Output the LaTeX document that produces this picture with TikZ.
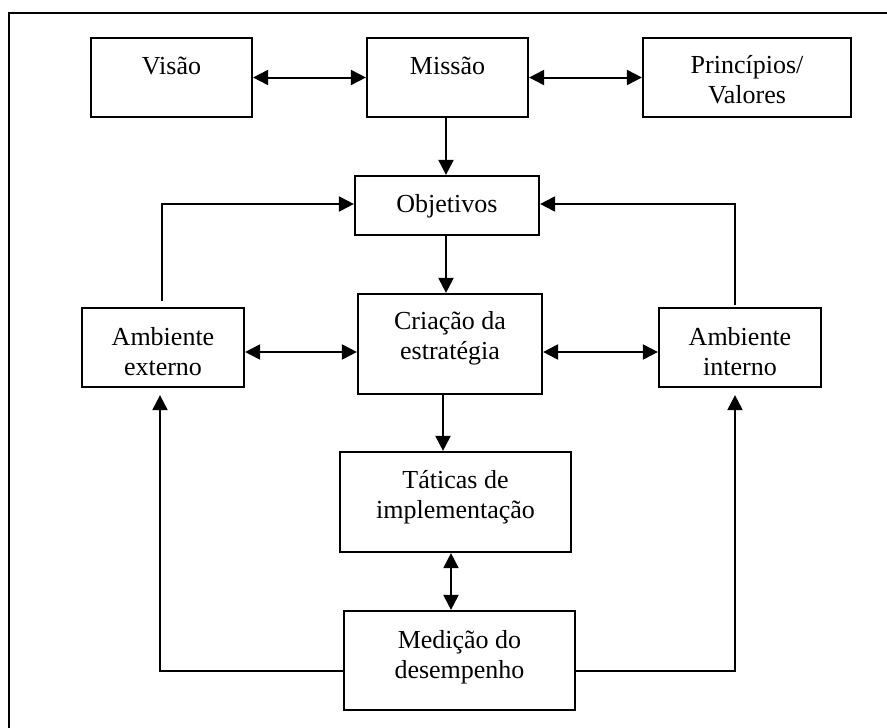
\documentclass[tikz,border=0pt]{standalone}
\usepackage{fontspec}
\setmainfont{Liberation Serif}
\usetikzlibrary{arrows.meta}
\begin{document}
\begin{tikzpicture}[x=1pt,y=-1pt,
  box/.style={draw=black,line width=2.2pt,minimum width=#1,inner sep=0pt},
  label/.style={anchor=base,align=center,inner sep=0pt,
    font=\fontsize{26}{30}\selectfont},
  tip/.style={},
  link/.style={line width=2pt,-{Triangle[length=15pt,width=15pt]}},
  dlink/.style={line width=2pt,{Triangle[length=15pt,width=15pt]}-{Triangle[length=15pt,width=15pt]}}]
\useasboundingbox (0,0) rectangle (887,728);
% frame: only the top and left edges show
\draw[line width=2.8pt] (9,728) -- (9,13) -- (887,13);

% boxes
\node[box=161pt,minimum height=79pt]  (visao)  at (171.5,77.5) {};
\node[box=161pt,minimum height=79pt]  (missao) at (447.5,77.5) {};
\node[box=208pt,minimum height=79pt]  (princ)  at (747,77.5) {};
\node[box=184pt,minimum height=59pt]  (obj)    at (447,205.5) {};
\node[box=184pt,minimum height=100pt] (cria)   at (450,344) {};
\node[box=162pt,minimum height=79pt]  (ext)    at (163,347.5) {};
\node[box=162pt,minimum height=79pt]  (int)    at (740,347.5) {};
\node[box=231pt,minimum height=100pt] (tat)    at (455.5,502) {};
\node[box=231pt,minimum height=99pt]  (med)    at (459.5,660.5) {};

% labels (base anchor sits on the last line's baseline)
\node[label] (visaoT)  at (171.5,74)  {Visão};
\node[label] (missaoT) at (447.5,74)  {Missão};
\node[label] (princT)  at (747,103.5) {Princípios/\\Valores};
\node[label] (objT)    at (447,212)   {Objetivos};
\node[label] (criaT)   at (450,359.5) {Criação da\\estratégia};
\node[label] (extT)    at (163,375)   {Ambiente\\externo};
\node[label] (intT)    at (740,375)   {Ambiente\\interno};
\node[label] (tatT)    at (455.5,518) {Táticas de\\implementação};
\node[label] (medT)    at (459.5,678) {Medição do\\desempenho};

% connectors
\draw[dlink] (visao.east) -- (missao.west);
\draw[dlink] (missao.east) -- (princ.west);
\draw[link] ([xshift=-1.5pt]missao.south) -- ([xshift=-1.5pt]missao.south |- obj.north);
\draw[link] ([xshift=-1pt]obj.south) -- ([xshift=-1pt]obj.south |- cria.north);
\draw[link] ([xshift=-7pt]cria.south) -- ([xshift=-7pt]cria.south |- tat.north);
\draw[dlink] ([xshift=-4.5pt]tat.south) -- ([xshift=-4.5pt]tat.south |- med.north);
\draw[dlink] ([yshift=-4.5pt]ext.east) -- ([yshift=-4.5pt]ext.east -| cria.west);
\draw[dlink] ([yshift=-4.5pt]int.west -| cria.east) -- ([yshift=-4.5pt]int.west);
\draw[link] ([xshift=-1pt,yshift=6pt]ext.north) |- ([yshift=1.5pt]obj.west);
\draw[link] ([xshift=-5pt,yshift=2pt]int.north) |- ([yshift=1.5pt]obj.east);
\draw[link] ([yshift=-10.5pt]med.west) -| ([xshift=-3pt,yshift=-7pt]ext.south);
\draw[link] ([yshift=-10.5pt]med.east) -| ([xshift=-5pt,yshift=-7pt]int.south);
\end{tikzpicture}
\end{document}
